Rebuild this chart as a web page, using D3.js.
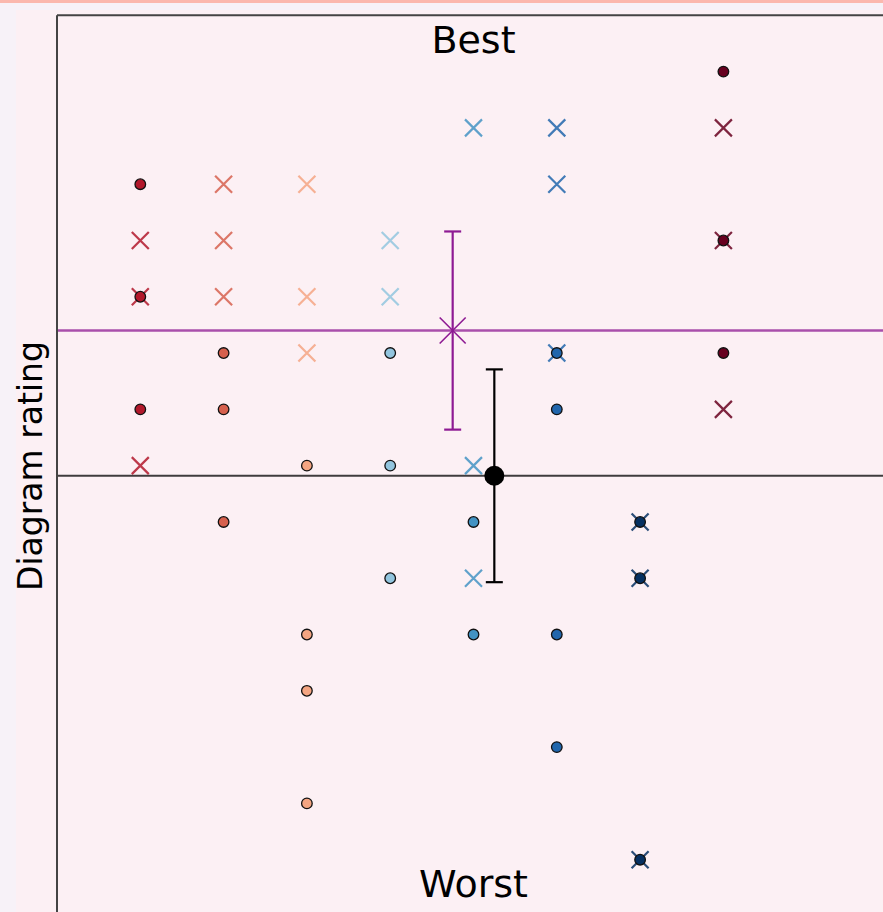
<!DOCTYPE html>
<html>
<head>
<meta charset="utf-8">
<script src="https://cdn.jsdelivr.net/npm/d3@7"></script>
<style>
  html, body { margin: 0; padding: 0; background: #f7f2f8; }
  svg { display: block; }
</style>
</head>
<body>
<script>
// ---- data ----
const columns = [1, 2, 3, 4, 5, 6, 7, 8];
const columnColors = ["#b2182b", "#d6604d", "#f4a582", "#92c5de", "#4393c3", "#2166ac", "#053061", "#67001f"];
const circleValues = [[5, 3, 1], [2, 1, -1], [0, -3, -4, -6], [2, 0, -2], [-1, -3], [2, 1, -3, -5], [-1, -2, -7], [7, 4, 2]];
const crossValues = [[4, 3, 0], [5, 4, 3], [5, 3, 2], [4, 3], [6, 0, -2], [6, 5, 2], [-1, -2, -7], [6, 4, 1]];
const circleSummary = [5.25, -0.18, 1.89];   // x, mean, error
const crossSummary = [4.75, 2.4, 1.76];      // x, mean, error
const topLabel = "Best";
const bottomLabel = "Worst";
const yLabel = "Diagram rating";

// ---- layout ----
const W = 883, H = 912;
const svg = d3.select("body").append("svg").attr("width", W).attr("height", H);

svg.append("rect").attr("x", 0).attr("y", 0).attr("width", W).attr("height", H).attr("fill", "#f7f2f8");
svg.append("rect").attr("x", 16).attr("y", 10).attr("width", W - 16).attr("height", H - 10).attr("fill", "#fcf0f4");
svg.append("rect").attr("x", 0).attr("y", 0).attr("width", W).attr("height", 3).attr("fill", "#fbb8ae");

const x = d3.scaleLinear().domain([0, 10]).range([57, 890]);
const y = d3.scaleLinear().domain([-8, 8]).range([916, 15.3]);

const plot = svg.append("g");

// horizontal reference lines
plot.append("line")
  .attr("x1", x(0)).attr("x2", W).attr("y1", y(circleSummary[1])).attr("y2", y(circleSummary[1]))
  .attr("stroke", "#000").attr("stroke-opacity", 0.75).attr("stroke-width", 2);
plot.append("line")
  .attr("x1", x(0)).attr("x2", W).attr("y1", y(crossSummary[1])).attr("y2", y(crossSummary[1]))
  .attr("stroke", "#8e1a93").attr("stroke-opacity", 0.75).attr("stroke-width", 2.5);

// points
const circlePts = [], crossPts = [];
columns.forEach((c, i) => {
  circleValues[i].forEach(v => circlePts.push({ c, v, col: columnColors[i] }));
  crossValues[i].forEach(v => crossPts.push({ c, v, col: columnColors[i] }));
});

const cs = 8.5;
const crossPath = d => `M${-cs},${-cs}L${cs},${cs}M${-cs},${cs}L${cs},${-cs}`;

plot.selectAll("path.cross").data(crossPts).enter().append("path")
  .attr("class", "cross")
  .attr("transform", d => `translate(${x(d.c)},${y(d.v)})`)
  .attr("d", crossPath)
  .attr("fill", "none")
  .attr("stroke", d => d.col)
  .attr("stroke-opacity", 0.85)
  .attr("stroke-width", 2.2);

plot.selectAll("circle.dot").data(circlePts).enter().append("circle")
  .attr("class", "dot")
  .attr("cx", d => x(d.c)).attr("cy", d => y(d.v))
  .attr("r", 5.3)
  .attr("fill", d => d.col)
  .attr("stroke", "#111")
  .attr("stroke-width", 1.3);

// error bars
function errorBar(sum, color) {
  const [cx, m, e] = sum;
  const g = plot.append("g").attr("stroke", color).attr("stroke-width", 2.2);
  g.append("line").attr("x1", x(cx)).attr("x2", x(cx)).attr("y1", y(m + e)).attr("y2", y(m - e));
  [m + e, m - e].forEach(v => g.append("line")
    .attr("x1", x(cx) - 8.5).attr("x2", x(cx) + 8.5).attr("y1", y(v)).attr("y2", y(v)));
  return g;
}
errorBar(crossSummary, "#8e1a93");
const ms = 13;
plot.append("path")
  .attr("transform", `translate(${x(crossSummary[0])},${y(crossSummary[1])})`)
  .attr("d", `M${-ms},${-ms}L${ms},${ms}M${-ms},${ms}L${ms},${-ms}`)
  .attr("stroke", "#8e1a93").attr("stroke-width", 1.6).attr("fill", "none");

errorBar(circleSummary, "#000");
plot.append("circle")
  .attr("cx", x(circleSummary[0])).attr("cy", y(circleSummary[1]))
  .attr("r", 10).attr("fill", "#000");

// spines
svg.append("line").attr("x1", x(0)).attr("x2", x(0)).attr("y1", y(8)).attr("y2", H)
  .attr("stroke", "#444").attr("stroke-width", 2);
svg.append("line").attr("x1", x(0)).attr("x2", W).attr("y1", y(8)).attr("y2", y(8))
  .attr("stroke", "#444").attr("stroke-width", 2);

// texts
svg.append("text").attr("x", x(5)).attr("y", 53)
  .attr("text-anchor", "middle").attr("font-family", "DejaVu Sans").attr("font-size", 38)
  .attr("fill", "#000").text(topLabel);
svg.append("text").attr("x", x(5)).attr("y", 897)
  .attr("text-anchor", "middle").attr("font-family", "DejaVu Sans").attr("font-size", 38)
  .attr("fill", "#000").text(bottomLabel);
svg.append("text")
  .attr("transform", `translate(42,466) rotate(-90)`)
  .attr("text-anchor", "middle").attr("font-family", "DejaVu Sans").attr("font-size", 33)
  .attr("fill", "#000").text(yLabel);
</script>
</body>
</html>
